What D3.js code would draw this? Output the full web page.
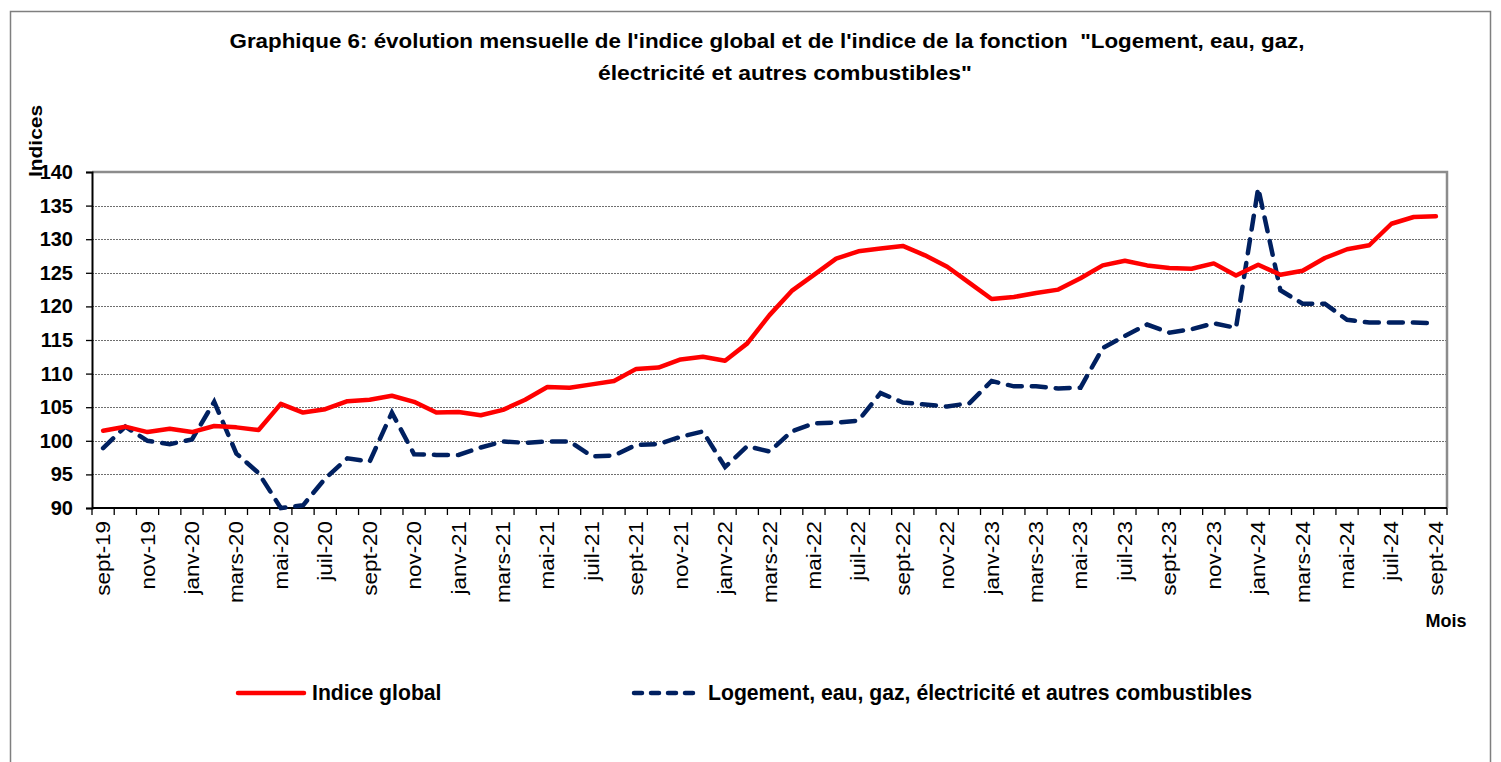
<!DOCTYPE html>
<html>
<head>
<meta charset="utf-8">
<script src="https://cdn.jsdelivr.net/npm/d3@7"></script>
<style>
  body { margin: 0; background: #fff; }
  svg { display: block; font-family: "Liberation Sans", Arial, sans-serif; }
</style>
</head>
<body>
<div id="chart"></div>
<script>
var months = [
    "sept-19", "oct-19", "nov-19", "déc-19", "janv-20", "févr-20", "mars-20", "avr-20", "mai-20", "juin-20",
    "juil-20", "août-20", "sept-20", "oct-20", "nov-20", "déc-20", "janv-21", "févr-21", "mars-21", "avr-21",
    "mai-21", "juin-21", "juil-21", "août-21", "sept-21", "oct-21", "nov-21", "déc-21", "janv-22", "févr-22",
    "mars-22", "avr-22", "mai-22", "juin-22", "juil-22", "août-22", "sept-22", "oct-22", "nov-22", "déc-22",
    "janv-23", "févr-23", "mars-23", "avr-23", "mai-23", "juin-23", "juil-23", "août-23", "sept-23", "oct-23",
    "nov-23", "déc-23", "janv-24", "févr-24", "mars-24", "avr-24", "mai-24", "juin-24", "juil-24", "août-24",
    "sept-24"
];

var indiceGlobal = [
    101.5, 102.1, 101.3, 101.8, 101.3, 102.2, 102.0, 101.6, 105.5, 104.2,
    104.7, 105.9, 106.1, 106.7, 105.8, 104.2, 104.3, 103.8, 104.6, 106.1,
    108.0, 107.9, 108.4, 108.9, 110.7, 110.9, 112.1, 112.5, 111.9, 114.5,
    118.7, 122.3, 124.7, 127.1, 128.2, 128.6, 129.0, 127.6, 125.9, 123.5,
    121.1, 121.4, 122.0, 122.5, 124.2, 126.1, 126.8, 126.1, 125.7, 125.6,
    126.4, 124.6, 126.2, 124.7, 125.3, 127.2, 128.5, 129.1, 132.3, 133.3,
    133.4
];

var logement = [
    98.9, 102.1, 100.0, 99.5, 100.2, 105.8, 98.1, 95.2, 90.0, 90.4,
    94.4, 97.4, 96.9, 104.2, 98.0, 97.9, 97.9, 99.0, 99.9, 99.7,
    99.9, 99.9, 97.7, 97.8, 99.4, 99.5, 100.6, 101.4, 96.1, 99.2,
    98.4, 101.4, 102.6, 102.7, 103.0, 107.1, 105.7, 105.4, 105.1, 105.6,
    108.9, 108.1, 108.1, 107.8, 107.9, 113.8, 115.6, 117.3, 116.1, 116.6,
    117.5, 116.8, 137.6, 122.4, 120.4, 120.4, 118.0, 117.6, 117.6, 117.6,
    117.5
];

var yTicks = [90, 95, 100, 105, 110, 115, 120, 125, 130, 135, 140];

window.onload = function () {

    var w = 1501;
    var h = 762;
    var plotLeft = 92, plotRight = 1447, plotTop = 172, plotBottom = 508;

    var svg = d3.select("#chart")
        .append("svg")
        .attr("width", w)
        .attr("height", h);

    // outer frame
    svg.append("path")
        .attr("d", "M10.5," + h + "V11.5H1490.5V" + h)
        .attr("fill", "none")
        .attr("stroke", "#7f7f7f")
        .attr("stroke-width", 1.5);

    var xScale = d3.scaleBand()
        .domain(months)
        .range([plotLeft, plotRight]);

    var yScale = d3.scaleLinear()
        .domain([90, 140])
        .range([plotBottom, plotTop]);

    var cx = function (i) { return xScale(months[i]) + xScale.bandwidth() / 2; };

    // grid lines
    svg.append("g")
        .selectAll("line")
        .data(yTicks.filter(function (t) { return t > 90 && t < 140; }))
        .enter()
        .append("line")
        .attr("x1", plotLeft)
        .attr("x2", plotRight)
        .attr("y1", function (d) { return Math.round(yScale(d)) + 0.5; })
        .attr("y2", function (d) { return Math.round(yScale(d)) + 0.5; })
        .attr("stroke", "#6e6e6e")
        .attr("stroke-width", 1)
        .attr("stroke-dasharray", "2,1");

    // top and right border of plot area
    svg.append("path")
        .attr("d", "M" + plotLeft + "," + plotTop + "H" + plotRight + "V" + plotBottom)
        .attr("fill", "none")
        .attr("stroke", "#8c8c8c")
        .attr("stroke-width", 2.5);

    // y axis
    var yAxis = svg.append("g")
        .attr("transform", "translate(" + plotLeft + ",0)")
        .call(d3.axisLeft(yScale).tickValues(yTicks).tickSize(6).tickPadding(13));
    yAxis.select(".domain").attr("stroke", "#000").attr("stroke-width", 2);
    yAxis.selectAll(".tick line").attr("stroke", "#000").attr("stroke-width", 1.3);
    yAxis.selectAll("text")
        .style("font-family", "'Liberation Sans', Arial, sans-serif")
        .style("font-size", "20px")
        .style("font-weight", "bold")
        .attr("fill", "#000");

    // x axis, ticks on the band boundaries
    svg.append("line")
        .attr("x1", plotLeft).attr("x2", plotRight)
        .attr("y1", plotBottom).attr("y2", plotBottom)
        .attr("stroke", "#000")
        .attr("stroke-width", 2);

    svg.append("g")
        .selectAll("line")
        .data(months.concat(["end"]))
        .enter()
        .append("line")
        .attr("x1", function (d, i) { return plotLeft + i * xScale.step(); })
        .attr("x2", function (d, i) { return plotLeft + i * xScale.step(); })
        .attr("y1", plotBottom)
        .attr("y2", plotBottom + 7)
        .attr("stroke", "#000")
        .attr("stroke-width", 1.3);

    svg.append("g")
        .selectAll("text")
        .data(months.filter(function (d, i) { return i % 2 === 0; }))
        .enter()
        .append("text")
        .attr("transform", function (d) {
            return "translate(" + (xScale(d) + xScale.bandwidth() / 2 + 7) + "," + (plotBottom + 13) + ") rotate(-90) scale(1.12,1)";
        })
        .attr("text-anchor", "end")
        .style("font-size", "20px")
        .attr("fill", "#000")
        .text(function (d) { return d; });

    // series
    var line = d3.line()
        .x(function (d, i) { return cx(i); })
        .y(function (d) { return yScale(d); });

    svg.append("path")
        .attr("d", line(logement))
        .attr("fill", "none")
        .attr("stroke", "#002060")
        .attr("stroke-width", 4.5)
        .attr("stroke-linecap", "round")
        .attr("stroke-dasharray", "14,10");

    svg.append("path")
        .attr("d", line(indiceGlobal))
        .attr("fill", "none")
        .attr("stroke", "#ff0000")
        .attr("stroke-width", 4.5)
        .attr("stroke-linejoin", "round")
        .attr("stroke-linecap", "round");

    // title
    var title = svg.append("text")
        .attr("text-anchor", "middle")
        .style("font-size", "20px")
        .style("font-weight", "bold")
        .style("white-space", "pre")
        .attr("fill", "#000");
    title.append("tspan")
        .attr("x", 767).attr("y", 48)
        .attr("textLength", 1075)
        .attr("lengthAdjust", "spacingAndGlyphs")
        .text("Graphique 6: évolution mensuelle de l'indice global et de l'indice de la fonction  \"Logement, eau, gaz,");
    title.append("tspan")
        .attr("x", 785).attr("y", 80)
        .attr("textLength", 374)
        .attr("lengthAdjust", "spacingAndGlyphs")
        .text("électricité et autres combustibles\"");

    // axis titles
    svg.append("text")
        .attr("transform", "translate(42,177) rotate(-90) scale(1.1,1)")
        .attr("text-anchor", "start")
        .style("font-size", "19px")
        .style("font-weight", "bold")
        .text("Indices");

    svg.append("text")
        .attr("x", 1446)
        .attr("y", 627)
        .attr("text-anchor", "middle")
        .style("font-size", "18px")
        .style("font-weight", "bold")
        .text("Mois");

    // legend
    var legend = [
        { name: "Indice global", color: "#ff0000", dash: null, x: 238 },
        { name: "Logement, eau, gaz, électricité et autres combustibles", color: "#002060", dash: "8,9", x: 634 }
    ];

    var lg = svg.append("g")
        .selectAll("g")
        .data(legend)
        .enter()
        .append("g")
        .attr("transform", function (d) { return "translate(" + d.x + ",693)"; });

    lg.append("line")
        .attr("x1", 0).attr("x2", 66)
        .attr("y1", 0).attr("y2", 0)
        .attr("stroke", function (d) { return d.color; })
        .attr("stroke-width", 4.5)
        .attr("stroke-linecap", "round")
        .attr("stroke-dasharray", function (d) { return d.dash; });

    lg.append("text")
        .attr("x", 74)
        .attr("y", 7)
        .style("font-size", "21.2px")
        .style("font-weight", "bold")
        .text(function (d) { return d.name; });
};
</script>
</body>
</html>
